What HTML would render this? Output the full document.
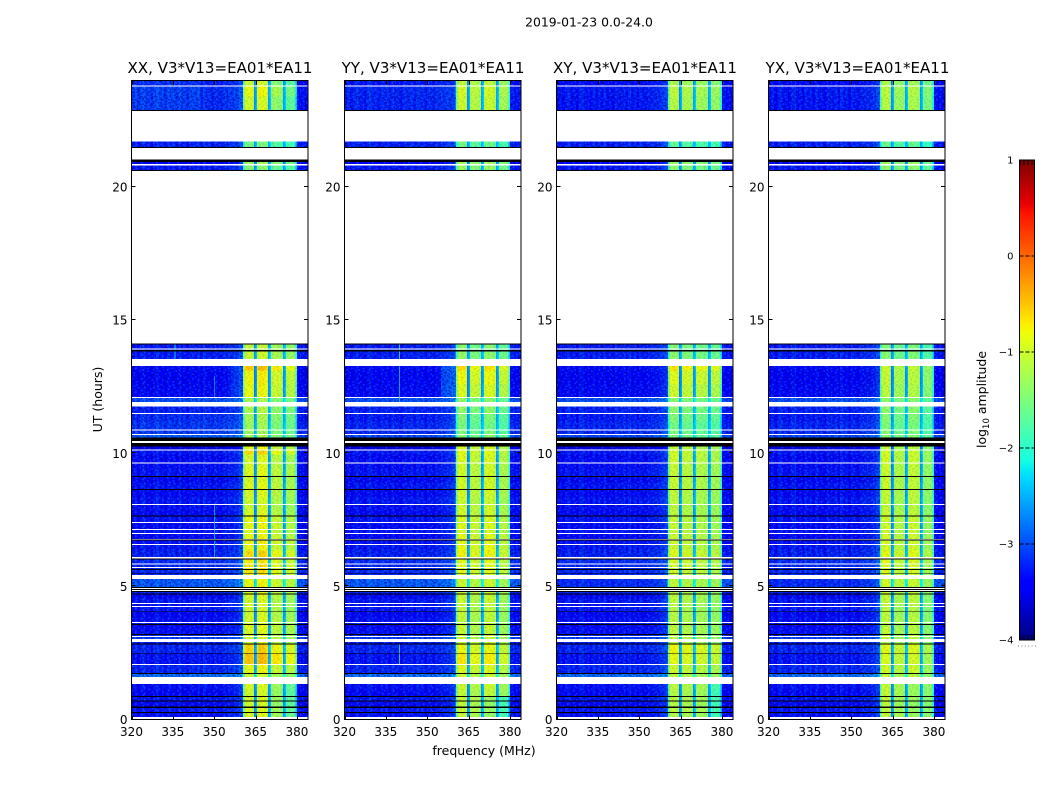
<!DOCTYPE html>
<html lang="en">
<head>
<meta charset="utf-8">
<title>2019-01-23 0.0-24.0</title>
<style>
html,body{margin:0;padding:0;background:#fff;}
svg{display:block;}
text{font-family:"DejaVu Sans","Liberation Sans",sans-serif;fill:#000;}
</style>
</head>
<body>
<svg id="chart" xmlns="http://www.w3.org/2000/svg" width="1050" height="800" viewBox="0 0 1050 800">
  <defs id="chart-defs"></defs>
  <rect x="0" y="0" width="1050" height="800" fill="#fff"/>
  <text x="589" y="26.5" font-size="12.4" text-anchor="middle">2019-01-23 0.0-24.0</text>
  <g id="panel-0">
    <text x="220" y="73" font-size="15.05" text-anchor="middle">XX, V3*V13=EA01*EA11</text>
  </g>
  <g id="panel-1">
    <text x="433" y="73" font-size="15.05" text-anchor="middle">YY, V3*V13=EA01*EA11</text>
  </g>
  <g id="panel-2">
    <text x="645" y="73" font-size="15.05" text-anchor="middle">XY, V3*V13=EA01*EA11</text>
  </g>
  <g id="panel-3">
    <text x="857.5" y="73" font-size="15.05" text-anchor="middle">YX, V3*V13=EA01*EA11</text>
  </g>
  <text x="484" y="755" font-size="12.5" text-anchor="middle">frequency (MHz)</text>
  <text transform="translate(102,399.5) rotate(-90)" font-size="12.5" text-anchor="middle">UT (hours)</text>
  <g id="colorbar"></g>
  <text transform="translate(986,399.5) rotate(-90)" font-size="12.5" text-anchor="middle">log<tspan font-size="8.5" dy="3">10</tspan><tspan dy="-3"> amplitude</tspan></text>
  <line x1="1018" y1="646" x2="1036" y2="646" stroke="#777" stroke-width="1" stroke-dasharray="1 2.4"/>
</svg>
<script>
/* ---------- tick labels ---------- */
const freqTicks = [320, 335, 350, 365, 380];
const timeTicks = [0, 5, 10, 15, 20];
const colorTicks = [1, 0, -1, -2, -3, -4];

/* ---------- time rows (UT hours, start / end) ---------- */
const rowStart = [
  .10,.29,.48,.72,.88,1.10,1.59,1.74,2.09,2.50,2.85,3.03,3.14,
  3.22,3.38,3.59,3.67,3.85,4.06,4.26,4.38,4.55,4.73,4.97,5.42,5.51,
  5.65,5.73,5.86,6.10,6.35,6.59,6.77,7.01,7.16,7.42,7.67,7.85,8.09,
  8.35,8.66,8.90,9.14,9.40,9.66,9.95,10.15,10.59,10.72,10.89,11.20,11.51,
  11.93,12.11,12.60,13.10,13.54,13.87,13.94,20.64,20.86,21.51,22.89,23.40,23.82
];
const rowEnd = [
  .25,.44,.68,.84,1.10,1.34,1.70,2.05,2.47,2.82,2.91,3.10,3.17,
  3.38,3.55,3.63,3.85,4.03,4.22,4.34,4.55,4.69,4.78,5.27,5.48,5.61,
  5.69,5.83,6.01,6.35,6.56,6.73,6.97,7.12,7.38,7.63,7.85,8.06,8.35,
  8.62,8.90,9.11,9.40,9.62,9.95,10.11,10.26,10.69,10.86,11.20,11.47,11.76,
  12.07,12.60,13.10,13.27,13.83,13.90,14.09,20.81,20.94,21.71,23.40,23.78,24
];
/* flagged rows drawn in black (start / end, hours) */
const blackStart = [.25,.44,.68,.84,1.70,2.47,2.82,3.17,3.55,4.03,4.69,4.78,4.86,4.93,5.48,5.61,6.01,6.73,7.63,8.62,9.11,10.26,10.46,13.83,14.09,20.61,20.94,21.47,22.86];
const blackEnd   = [.29,.48,.72,.88,1.74,2.50,2.85,3.22,3.59,4.06,4.73,4.82,4.90,4.97,5.51,5.65,6.05,6.77,7.67,8.66,9.14,10.38,10.59,13.87,14.13,20.64,21.03,21.51,22.89];

/* ---------- row level offsets (log10 amplitude), one per time row ---------- */
const lowGain = [
  0,.05,-.05,.05,-.05,0,.5,.12,.02,.12,.05,.25,.1,
  0,-.05,.05,0,-.05,.05,0,.05,-.05,.1,.4,.1,.15,
  .1,.12,.15,.1,.05,0,-.05,.03,-.03,.02,-.06,0,.04,
  -.04,.02,-.05,.03,-.02,-.03,.05,-.25,.3,.15,.12,.05,.1,
  .35,-.05,-.08,-.03,.08,.1,.05,.05,-.1,.1,.03,.05,-.05
];
const highGainXX = [
  .02,0,-.05,0,-.05,0,-.1,.1,.42,.32,0,0,0,
  0,.05,0,0,-.05,-.05,0,-.05,0,.05,.12,.2,.25,
  .2,.25,.2,.3,.1,.15,.1,.05,.1,.1,0,-.05,-.05,
  0,.05,0,.05,0,0,.3,.1,-.3,-.35,-.35,-.3,-.25,
  -.3,.1,.15,.4,-.1,-.1,-.15,-.5,-.3,-.6,-.05,.1,-.1
];
const highGainYY = [
  -.05,-.02,-.05,-.02,-.05,0,0,.12,.3,.2,.05,0,0,
  -.05,0,0,-.05,-.05,-.05,0,0,0,.05,0,.1,.15,
  .12,.15,.15,.25,.2,.15,.15,.05,.12,.1,.05,.05,0,
  .05,.05,.05,.05,.05,.1,.15,.1,-.4,-.45,-.5,-.45,-.35,
  -.35,.1,.2,.35,-.35,-.4,-.4,-.3,-.2,-.55,0,.05,-.05
];
const highGainXY = [
  -.05,0,-.05,0,-.05,0,0,.1,.25,.3,0,0,0,
  0,0,0,-.02,-.05,-.05,0,0,0,0,.02,.1,.12,
  .1,.15,.15,.2,.1,.1,.08,.05,.05,.05,0,0,0,
  .02,.05,.05,.05,.05,.1,.12,.05,-.4,-.4,-.45,-.35,-.3,
  -.3,.1,.2,.4,-.3,-.35,-.35,-.3,-.2,-.55,-.05,0,-.1
];
const highGainYX = [
  0,-.02,-.05,0,0,0,0,.1,.15,.2,0,0,0,
  0,-.02,0,0,-.05,-.05,0,0,0,.05,.08,.12,.15,
  .1,.15,.18,.22,.12,.12,.1,.05,.08,.08,.03,0,0,
  .02,.05,.03,.05,.05,.08,.1,0,-.3,-.35,-.4,-.35,-.3,
  -.3,-.05,0,.05,-.35,-.35,-.4,-.3,-.2,-.55,-.1,-.05,-.15
];

/* ---------- channel levels ---------- */
/* 320-359 MHz, 1 MHz channels, all panels */
const lowChannels = [
  -3.38,-3.25,-3.4,-3.28,-3.22,-3.36,-3.3,-3.42,-3.24,-3.2,
  -3.34,-3.27,-3.39,-3.23,-3.32,-3.26,-3.37,-3.21,-3.35,-3.29,
  -3.41,-3.24,-3.28,-3.33,-3.22,-3.36,-3.2,-3.31,-3.26,-3.38,
  -3.25,-3.3,-3.34,-3.23,-3.27,-3.21,-3.24,-3.17,-3.14,-3.05
];
/* 360-383.5 MHz, 0.5 MHz channels */
const highChannelsXX = [-2.9,-1.7,-1.0,-.93,-.9,-.9,-.93,-.95,-1.05,-2.7,-2.5,-.95,-.87,-.85,-.85,-.87,-.9,-.93,-1.0,-2.6,-2.4,-1.2,-1.15,-1.1,-1.1,-1.1,-1.12,-1.15,-1.2,-1.3,-2.6,-2.4,-1.3,-1.25,-1.22,-1.2,-1.2,-1.25,-1.35,-2.0,-3.3,-3.35,-3.3,-3.4,-3.3,-3.35,-3.4,-3.3];
const highChannelsYY = [-2.8,-1.6,-1.03,-1.0,-.97,-.97,-1.0,-1.0,-1.07,-2.7,-2.5,-1.2,-1.15,-1.12,-1.12,-1.15,-1.15,-1.18,-1.25,-2.6,-2.4,-1.08,-1.03,-1.0,-1.0,-1.0,-1.03,-1.06,-1.1,-1.13,-2.6,-2.4,-1.3,-1.25,-1.22,-1.2,-1.22,-1.25,-1.32,-2.0,-3.25,-3.3,-3.25,-3.35,-3.3,-3.3,-3.35,-3.25];
const highChannelsXY = [-2.9,-1.7,-1.12,-1.08,-1.05,-1.05,-1.08,-1.1,-1.18,-2.7,-2.5,-1.22,-1.17,-1.14,-1.14,-1.17,-1.17,-1.2,-1.24,-2.6,-2.4,-1.28,-1.25,-1.21,-1.21,-1.21,-1.23,-1.25,-1.28,-1.31,-2.6,-2.4,-1.35,-1.31,-1.27,-1.27,-1.27,-1.31,-1.4,-2.0,-3.3,-3.35,-3.3,-3.4,-3.3,-3.35,-3.4,-3.3];
const highChannelsYX = [-2.9,-1.7,-1.1,-1.05,-1.02,-1.02,-1.05,-1.08,-1.15,-2.7,-2.5,-1.27,-1.22,-1.2,-1.2,-1.22,-1.22,-1.24,-1.3,-2.6,-2.4,-1.15,-1.1,-1.08,-1.08,-1.08,-1.1,-1.12,-1.18,-1.22,-2.6,-2.4,-1.45,-1.4,-1.37,-1.35,-1.37,-1.4,-1.47,-2.1,-3.3,-3.35,-3.3,-3.4,-3.3,-3.35,-3.4,-3.3];

/* ---------- local level changes: panel, MHz from, MHz to, hour from, hour to, change ---------- */
const patchPanel = [0,0,0,0,1,0,1,0,0,1,1,2,3,0,2,3];
const patchF0    = [320,345,376,370.5,320,356,355,376,370.5,376,370.5,376,370.5,320,320,320];
const patchF1    = [345,360,380,375,358,360,360,380,375,380,375,380,375,360,360,360];
const patchH0    = [22.89,22.89,22.89,22.89,22.89,12.11,12.11,.10,.10,.10,.10,.10,.10,10.59,4.97,4.97];
const patchH1    = [24,24,24,24,24,13.27,13.27,1.34,1.34,.88,.88,1.34,1.34,11.47,5.27,5.27];
const patchDelta = [.22,.1,-.4,-.2,.08,.15,.3,-.4,-.15,-.55,-.25,-.5,-.2,.1,-.25,-.25];

/* ---------- narrow interference lines: panel, MHz, hour from, hour to, level ---------- */
const spurPanel = [0,0,0,1,1,1];
const spurFreq  = [335.6,350,350,339.8,339.8,339.8];
const spurH0    = [13.54,6.1,12.11,13.54,11.93,2.09];
const spurH1    = [14.09,8.06,12.9,14.09,13.27,2.82];
const spurLevel = [-2.0,-2.4,-2.6,-1.9,-2.3,-2.0];

/* ---------- speckle tile: d = darker sample, l = brighter sample ---------- */
const speckleTile = [
  "d.l..d.dd..l.d...d.l.dd.",
  ".d..dd...l.d..dd.l...d.d",
  "l.d...l.d..dd...d.d.l..d",
  "d..dl..d..l...d.l..dd...",
  ".dd...d..d.dl...dd..d.l.",
  "..l.dd..l...d.d...l..d.d",
  "d...d.ld..dd...l.d.d...l",
  ".dl...d...l.d.d..dd..ld.",
  "d..d.l..dd...d...l.d.d..",
  ".d...dd.l..d..ld...d..dl",
  "l..dd...d.d...d.dl...d..",
  ".d.l..d...ld.d...d.dd..d",
  "d...d..dl....dd.l...d.l.",
  "..dd.l.d..d.l...dd.d...d",
  "ld...d...dd..d.l...l.dd.",
  "..d.d.ld.....dd..d..d..l"
];

/* ---------- axis functions ---------- */
const plotLeft = [131.5, 344.5, 556.5, 768.5];
const plotWidth = 176.5;
const plotTop = 80.5;
const plotBottom = 719.5;
const freqMin = 320, freqMax = 384, timeMin = 0, timeMax = 24;
function xScale(panel, f){ return plotLeft[panel] + (f - freqMin) / (freqMax - freqMin) * plotWidth; }
function yScale(h){ return plotBottom - (h - timeMin) / (timeMax - timeMin) * (plotBottom - plotTop); }
const cbLeft = 1019.5, cbRight = 1034.5, cbTop = 160, cbBottom = 640, cbMin = -4, cbMax = 1;
function cbScale(v){ return cbBottom - (v - cbMin) / (cbMax - cbMin) * (cbBottom - cbTop); }

/* jet colormap */
function interp(t, xs, ys){
  for (let i = 1; i < xs.length; i++){
    if (t <= xs[i]) return ys[i-1] + (ys[i]-ys[i-1]) * (t-xs[i-1]) / (xs[i]-xs[i-1]);
  }
  return ys[ys.length-1];
}
function jet(v){
  const t = Math.max(0, Math.min(1, (v - cbMin) / (cbMax - cbMin)));
  const r = interp(t,[0,.35,.66,.89,1],[0,0,1,1,.5]);
  const g = interp(t,[0,.125,.375,.64,.91,1],[0,0,1,1,0,0]);
  const b = interp(t,[0,.11,.34,.65,1],[.5,1,1,0,0]);
  return 'rgb(' + Math.round(r*255) + ',' + Math.round(g*255) + ',' + Math.round(b*255) + ')';
}

const NS = 'http://www.w3.org/2000/svg';
function make(tag, attrs, parent){
  const el = document.createElementNS(NS, tag);
  for (const k in attrs) el.setAttribute(k, attrs[k]);
  parent.appendChild(el);
  return el;
}

function buildSpeckle(){
  const defs = document.getElementById('chart-defs');
  const cell = 1.5;
  const pattern = make('pattern', {id: 'speckle', patternUnits: 'userSpaceOnUse', x: 0, y: 0, width: speckleTile[0].length * cell, height: speckleTile.length * cell}, defs);
  speckleTile.forEach(function(line, r){
    for (let c = 0; c < line.length; c++){
      if (line[c] === '.') continue;
      make('rect', {x: c * cell, y: r * cell, width: cell, height: cell, fill: line[c] === 'd' ? '#00008c' : '#1f7cff', 'fill-opacity': line[c] === 'd' ? .5 : .38}, pattern);
    }
  });
}
buildSpeckle();

const highGains = [highGainXX, highGainYY, highGainXY, highGainYX];
const highChannels = [highChannelsXX, highChannelsYY, highChannelsXY, highChannelsYX];

function patchOffset(panel, f, h){
  let d = 0;
  for (let i = 0; i < patchPanel.length; i++){
    if (patchPanel[i] === panel && f >= patchF0[i] && f < patchF1[i] && h >= patchH0[i] && h < patchH1[i]) d += patchDelta[i];
  }
  return d;
}

function drawPanel(p){
  const g = document.getElementById('panel-' + p);
  const cells = make('g', {'shape-rendering':'crispEdges'}, g);
  
  
  const channelCount = lowChannels.length + highChannels[p].length;
  for (let r = 0; r < rowStart.length; r++){
    const yA = yScale(rowEnd[r]), yB = yScale(rowStart[r]);
    const mid = (rowStart[r] + rowEnd[r]) / 2;
    for (let c = 0; c < channelCount; c++){
      const isLow = c < lowChannels.length;
      const f0 = isLow ? 320 + c : 360 + (c - lowChannels.length) * .5;
      const f1 = isLow ? f0 + 1 : f0 + .5;
      const base = isLow ? lowChannels[c] : highChannels[p][c - lowChannels.length];
      const gain = base > -2.2 ? highGains[p][r] : lowGain[r];
      const value = base + gain + patchOffset(p, f0, mid);
      const cell = make('rect', {x: xScale(p, f0).toFixed(2), y: yA.toFixed(2), width: (xScale(p, f1) - xScale(p, f0) + .3).toFixed(2), height: (yB - yA).toFixed(2), fill: jet(value)}, cells);
      
      
    }
    const noiseLeft = make('rect', {x: xScale(p, 320), y: yA.toFixed(2), width: (xScale(p, 360.5) - xScale(p, 320)).toFixed(2), height: (yB - yA).toFixed(2), fill: 'url(#speckle)'}, cells);
    
    
    const noiseBand = make('rect', {x: xScale(p, 360.5).toFixed(2), y: yA.toFixed(2), width: (xScale(p, 380) - xScale(p, 360.5)).toFixed(2), height: (yB - yA).toFixed(2), fill: 'url(#speckle)', 'fill-opacity': .2}, cells);
    
    
    const noiseRight = make('rect', {x: xScale(p, 380).toFixed(2), y: yA.toFixed(2), width: (xScale(p, 384) - xScale(p, 380)).toFixed(2), height: (yB - yA).toFixed(2), fill: 'url(#speckle)'}, cells);
    
    
  }
  for (let s = 0; s < spurPanel.length; s++){
    if (spurPanel[s] !== p) continue;
    const spur = make('rect', {x: xScale(p, spurFreq[s]).toFixed(2), y: yScale(spurH1[s]).toFixed(2), width: 1, height: (yScale(spurH0[s]) - yScale(spurH1[s])).toFixed(2), fill: jet(spurLevel[s]), 'fill-opacity': .75}, cells);
    
    
  }
  for (let b = 0; b < blackStart.length; b++){
    const yA = yScale(blackEnd[b]), yB = yScale(blackStart[b]);
    const flag = make('rect', {x: plotLeft[p], y: yA.toFixed(2), width: plotWidth, height: (yB - yA).toFixed(2), fill: '#000'}, cells);
    
    
  }

  const frame = make('rect', {x: plotLeft[p], y: plotTop, width: plotWidth, height: plotBottom - plotTop, fill: 'none', stroke: '#000', 'stroke-width': 1}, g);
  
  

  freqTicks.forEach(function(f){
    const x = Math.round(xScale(p, f)) + .5;
    const tb = make('line', {x1: x, x2: x, y1: plotBottom, y2: plotBottom - 4, stroke: '#000'}, g);
    
    
    const tt = make('line', {x1: x, x2: x, y1: plotTop, y2: plotTop + 4, stroke: '#000'}, g);
    
    
    const label = make('text', {x: xScale(p, f), y: 736, 'font-size': 12, 'text-anchor': 'middle'}, g);
    label.textContent = String(f);
    
    
  });
  timeTicks.forEach(function(h){
    const y = Math.round(yScale(h)) - .5;
    const tl = make('line', {x1: plotLeft[p], x2: plotLeft[p] + 4, y1: y, y2: y, stroke: '#000'}, g);
    
    
    const tr = make('line', {x1: plotLeft[p] + plotWidth, x2: plotLeft[p] + plotWidth - 4, y1: y, y2: y, stroke: '#000'}, g);
    
    
    const label = make('text', {x: plotLeft[p] - 4, y: yScale(h) + 4.5, 'font-size': 12, 'text-anchor': 'end'}, g);
    label.textContent = String(h);
    
    
  });
}
[0, 1, 2, 3].forEach(drawPanel);

function drawColorbar(){
  const g = document.getElementById('colorbar');
  const ramp = make('g', {'shape-rendering': 'crispEdges'}, g);
  
  
  const steps = 240;
  for (let i = 0; i < steps; i++){
    const v0 = cbMin + (cbMax - cbMin) * i / steps;
    const v1 = cbMin + (cbMax - cbMin) * (i + 1) / steps;
    const s = make('rect', {x: cbLeft, y: cbScale(v1).toFixed(2), width: cbRight - cbLeft, height: (cbScale(v0) - cbScale(v1) + .4).toFixed(2), fill: jet((v0 + v1) / 2)}, ramp);
    
    
  }
  colorTicks.forEach(function(v){
    const y = cbScale(v);
    if (v === cbMin || v === cbMax){
      const fine = make('line', {x1: cbLeft, x2: cbRight, y1: v === cbMax ? y + 2.5 : y - 2.5, y2: v === cbMax ? y + 2.5 : y - 2.5, stroke: '#000', 'stroke-width': 5, 'stroke-dasharray': '1 3'}, g);
      
      
    } else {
      const tick = make('line', {x1: cbLeft, x2: cbRight, y1: y, y2: y, stroke: '#000', 'stroke-width': 1, 'stroke-dasharray': '4 2'}, g);
      
      
    }
    const label = make('text', {x: 1013.5, y: y + 3.5, 'font-size': 10, 'text-anchor': 'end'}, g);
    label.textContent = String(v).replace('-', '\u2212');
    
    
  });
  const border = make('rect', {x: cbLeft, y: cbTop, width: cbRight - cbLeft, height: cbBottom - cbTop, fill: 'none', stroke: '#000'}, g);
  
  
}
drawColorbar();
</script>
</body>
</html>
